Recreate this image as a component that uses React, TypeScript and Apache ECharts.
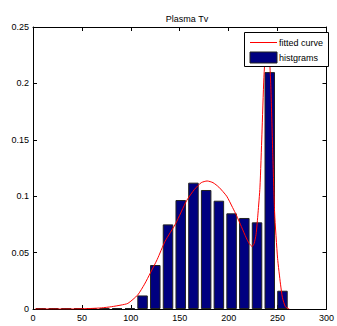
import React, { useEffect, useRef } from "react";
import * as echarts from "echarts";

const titleText = "Plasma Tv";
const legendLabels = ["fitted curve", "histgrams"];

// histogram bin centres and normalised frequencies
const binCenters = [8, 21, 34, 47, 60, 73, 86, 99, 112, 125, 138, 151, 164, 177, 190, 203, 216, 229, 242, 255];
const binValues = [0.0008, 0.0008, 0.0006, 0.0008, 0.0008, 0.0006, 0.0008, 0.0008, 0.012, 0.039, 0.075, 0.0966, 0.112, 0.1055, 0.096, 0.0848, 0.0807, 0.0768, 0.21, 0.0162];

// fitted curve
const curveX = [2, 20, 40, 60, 70, 80, 90, 97, 107, 114, 120, 127, 135, 146, 157, 165, 172, 178, 184, 190, 198, 204, 208, 213, 218, 221, 224, 226, 228, 230, 232, 234, 236, 238, 239.5, 241, 243, 245, 247, 250, 253, 255, 258, 262];
const curveY = [0, 0, 0, 0.0005, 0.001, 0.002, 0.0035, 0.005, 0.0124, 0.022, 0.032, 0.044, 0.06, 0.076, 0.096, 0.106, 0.112, 0.1135, 0.112, 0.108, 0.1, 0.09, 0.083, 0.073, 0.063, 0.058, 0.0555, 0.058, 0.066, 0.085, 0.108, 0.155, 0.205, 0.232, 0.238, 0.232, 0.2, 0.14, 0.085, 0.045, 0.022, 0.01, 0.002, 0];

const FONT = "Arial, 'Liberation Sans', Helvetica, sans-serif";

export default function App() {
  const ref = useRef<HTMLDivElement>(null);
  useEffect(() => {
    if (!ref.current) return;
    const chart = echarts.init(ref.current, undefined, { renderer: "svg" });
    const axisCommon = {
      axisLine: { show: true, onZero: false, lineStyle: { color: "#000", width: 1 } },
      axisTick: { show: true, inside: true, length: 4, lineStyle: { color: "#000" } },
      splitLine: { show: false },
    };
    chart.setOption({
      animation: false,
      backgroundColor: "#fff",
      textStyle: { fontFamily: FONT },
      title: {
        text: titleText,
        left: 182,
        textAlign: "center",
        top: 9,
        textStyle: { fontSize: 9, fontWeight: "normal", color: "#000", fontFamily: FONT },
      },
      grid: { left: 33, right: 5, top: 27, bottom: 17, containLabel: false },
      xAxis: [
        {
          type: "value", min: 0, max: 300, interval: 50, position: "bottom",
          ...axisCommon,
          axisLabel: { fontSize: 9, color: "#000", margin: 4, fontFamily: FONT },
        },
        {
          type: "value", min: 0, max: 300, interval: 50, position: "top",
          ...axisCommon,
          axisLabel: { show: false },
        },
      ],
      yAxis: [
        {
          type: "value", min: 0, max: 0.25, interval: 0.05, position: "left",
          ...axisCommon,
          axisLabel: { fontSize: 9, color: "#000", margin: 4, fontFamily: FONT },
        },
        {
          type: "value", min: 0, max: 0.25, interval: 0.05, position: "right",
          ...axisCommon,
          axisLabel: { show: false },
        },
      ],
      series: [
        {
          name: legendLabels[1],
          type: "bar",
          xAxisIndex: 0,
          yAxisIndex: 0,
          barWidth: 10.5,
          data: binCenters.map((c, i) => [c, binValues[i]]),
          itemStyle: { color: "#000080", borderColor: "#222", borderWidth: 1 },
          z: 2,
        },
        {
          name: legendLabels[0],
          type: "line",
          xAxisIndex: 0,
          yAxisIndex: 0,
          showSymbol: false,
          smooth: 0.2,
          data: curveX.map((x, i) => [x, curveY[i]]),
          lineStyle: { color: "#ff0000", width: 1 },
          z: 3,
        },
      ],
      graphic: [
        {
          type: "group",
          z: 100,
          children: [
            { type: "rect", shape: { x: 244.5, y: 32.5, width: 84, height: 34 }, style: { fill: "#fff", stroke: "#000", lineWidth: 1 }, z: 100 },
            { type: "line", shape: { x1: 250, y1: 42.5, x2: 277, y2: 42.5 }, style: { stroke: "#ff0000", lineWidth: 1 }, z: 101 },
            { type: "text", x: 279, y: 42.5, style: { text: legendLabels[0], fontSize: 9, fontFamily: FONT, fill: "#000", verticalAlign: "middle" }, z: 101 },
            { type: "rect", shape: { x: 250, y: 52, width: 27, height: 11 }, style: { fill: "#000080", stroke: "#222", lineWidth: 1 }, z: 101 },
            { type: "text", x: 279, y: 57.5, style: { text: legendLabels[1], fontSize: 9, fontFamily: FONT, fill: "#000", verticalAlign: "middle" }, z: 101 },
          ],
        },
      ],
    });
    return () => chart.dispose();
  }, []);
  return (
    <div
      ref={ref}
      style={{ position: "absolute", left: 0, top: 0, width: 337, height: 326 }}
    />
  );
}
